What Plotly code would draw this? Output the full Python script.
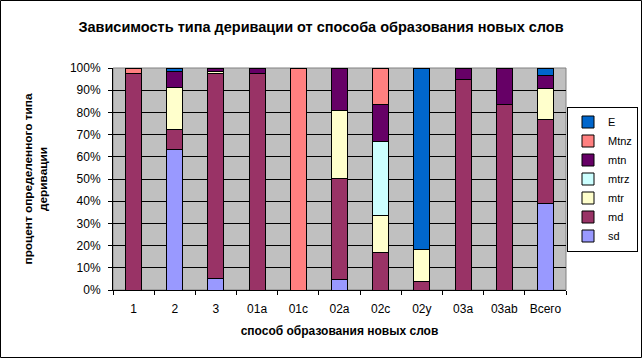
import plotly.graph_objects as go

categories = ["1", "2", "3", "01a", "01c", "02a", "02c", "02y", "03a", "03ab", "Всего"]

sd   = [0,    63.1, 5.1,  0,    0,   4.7,  0,    0,    0,    0,    38.8]
md   = [97.4, 9.2,  92.3, 97.7, 0,   45.5, 16.7, 3.7,  94.7, 83.4, 37.9]
mtr  = [0,    19.1, 1.2,  0,    0,   30.5, 16.7, 14.6, 0,    0,    14.1]
mtrz = [0,    0,    0,    0,    0,   0,    33.3, 0,    0,    0,    0]
mtn  = [0,    7.1,  1.4,  2.3,  0,   19.3, 16.7, 0,    5.3,  16.6, 5.7]
Mtnz = [2.6,  0,    0,    0,    100, 0,    16.6, 0,    0,    0,    0]
E    = [0,    1.5,  0,    0,    0,   0,    0,    81.7, 0,    0,    3.5]

series = [
    ("sd", sd, "#9999FF"),
    ("md", md, "#993366"),
    ("mtr", mtr, "#FFFFCC"),
    ("mtrz", mtrz, "#CCFFFF"),
    ("mtn", mtn, "#660066"),
    ("Mtnz", Mtnz, "#FF8080"),
    ("E", E, "#0066CC"),
]

font_family = "Liberation Sans, Arial, sans-serif"
W, H = 642, 358
ML, MR, MT, MB = 113, 76, 68, 68
PW, PH = W - ML - MR, H - MT - MB

fig = go.Figure()
for name, vals, color in series:
    fig.add_trace(go.Bar(
        x=categories, y=vals, name=name,
        marker=dict(color=color, line=dict(color="black", width=1)),
    ))

fig.update_layout(
    width=W, height=H,
    barmode="stack", bargap=0.61,
    paper_bgcolor="white", plot_bgcolor="#C0C0C0",
    margin=dict(l=ML, r=MR, t=MT, b=MB, autoexpand=False),
    font=dict(family=font_family, size=12, color="black"),
    title=dict(text="<b>Зависимость типа деривации от способа образования новых слов</b>",
               x=0.5, xanchor="center", y=1 - 27 / H, yanchor="middle",
               font=dict(size=14.5, family=font_family)),
    legend=dict(traceorder="reversed", x=(638 - ML) / PW, xanchor="right",
                y=0.5, yanchor="middle",
                bordercolor="black", borderwidth=1, bgcolor="white",
                font=dict(size=11), itemwidth=30),
    showlegend=True,
)

fig.update_yaxes(range=[0, 100], dtick=10, ticksuffix="%", showgrid=True,
                 gridcolor="black", gridwidth=1, showline=True, linecolor="black",
                 ticks="outside", ticklen=4, tickcolor="black", zeroline=False,
                 automargin=False, ticklabelstandoff=5,
                 title=dict(text="<b>процент определенного типа<br>деривации</b>",
                            font=dict(size=11.8), standoff=19))
fig.update_xaxes(showline=True, linecolor="black", ticks="outside", ticklen=4,
                 tickcolor="black", tickson="boundaries", showgrid=False,
                 automargin=False, ticklabelstandoff=8,
                 title=dict(text="<b>способ образования новых слов</b>",
                            font=dict(size=12), standoff=11))

# plot area border (gray) and outer chart border
fig.add_shape(type="rect", xref="paper", yref="paper", x0=0, y0=0, x1=1, y1=1,
              line=dict(color="#808080", width=1), layer="below")
fig.add_shape(type="rect", xref="paper", yref="paper",
              x0=(0.5 - ML) / PW, y0=-(MB - 0.5) / PH,
              x1=(W - 0.5 - ML) / PW, y1=1 + (MT - 0.5) / PH,
              line=dict(color="black", width=1))

fig.write_html("out.html", post_script="document.body.style.margin='0';",
               config={"displayModeBar": False})
